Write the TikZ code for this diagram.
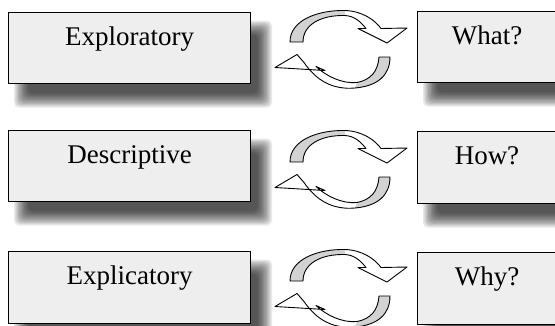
\documentclass[tikz,border=0pt]{standalone}
\usepackage{fontspec}
\setmainfont{Liberation Serif}
\definecolor{boxfill}{HTML}{EEEEEE}
\definecolor{arrowgray}{HTML}{D2D2D2}
\tikzset{
  panel/.style={draw=black, line width=1.2pt, fill=boxfill, inner sep=0pt, anchor=north west},
  lbl/.style={anchor=base, inner sep=0pt, font=\fontsize{27}{31}\selectfont},
  ribbonline/.style={draw=black, line width=0.9pt, line join=round},
}
\newcommand\softshadow[4]{%
  \foreach \k in {0,...,11}{%
    \pgfmathsetmacro\rr{8-1.3*\k}%
    \fill[black, opacity=0.085, rounded corners=5pt] ({#1+14-\rr},{#2+17-\rr}) rectangle ({#3+14+\rr},{#4+17+\rr});
  }}
\newcommand\cyclepair[1]{%
\begin{scope}[shift={(0,#1)}]
  % upper arrow
  \fill[white] (290,42) .. controls (290,20) and (318,10) .. (345,10.5) .. controls (362,11) and (375,20) .. (381,28.5) -- (407,28) -- (387,43) -- (358,28.5) -- (366,28.5) .. controls (360,21) and (354,16) .. (345,15.5) .. controls (320,15) and (303,25) .. (303,42) -- cycle;
  \fill[arrowgray] (290,42) .. controls (290,20) and (318,10) .. (345,10.5) -- (345,15.5) .. controls (320,15) and (303,25) .. (303,42) -- cycle;
  \draw[ribbonline] (290,42) .. controls (290,20) and (318,10) .. (345,10.5) .. controls (362,11) and (375,20) .. (381,28.5) -- (407,28) -- (387,43) -- (358,28.5) -- (366,28.5) .. controls (360,21) and (354,16) .. (345,15.5) .. controls (320,15) and (303,25) .. (303,42) -- cycle;
  % lower arrow
  \fill[white] (390,57) .. controls (390,75) and (378,86) .. (355,88) .. controls (332,90) and (316,80) .. (304,62.5) -- (297,54.5) -- (275,67.5) -- (325,70.5) -- (316,66.5) .. controls (326,76) and (342,84) .. (357,82.5) .. controls (370,80) and (378,72) .. (379,57) -- cycle;
  \fill[arrowgray] (390,57) .. controls (390,75) and (378,86) .. (355,88) -- (357,82.5) .. controls (370,80) and (378,72) .. (379,57) -- cycle;
  \draw[ribbonline] (390,57) .. controls (390,75) and (378,86) .. (355,88) .. controls (332,90) and (316,80) .. (304,62.5) -- (297,54.5) -- (275,67.5) -- (325,70.5) -- (316,66.5) .. controls (326,76) and (342,84) .. (357,82.5) .. controls (370,80) and (378,72) .. (379,57) -- cycle;
\end{scope}}
\begin{document}
\begin{tikzpicture}[x=1pt,y=-1pt]
\useasboundingbox (0,0) rectangle (555,325);
\clip (0,0) rectangle (555,325);
% shadows
\softshadow{8}{11.7}{250}{82.7}
\softshadow{8}{129.5}{250}{200.5}
\softshadow{8}{250.5}{250}{323}
\softshadow{417}{10.7}{570}{81.7}
\softshadow{417}{130.7}{570}{202.7}
\softshadow{417}{251.7}{570}{323}
% left boxes
\node[panel, minimum width=242pt, minimum height=71pt] (b1) at (8,11.7) {};
\node[panel, minimum width=242pt, minimum height=71pt] (b2) at (8,129.5) {};
\node[panel, minimum width=242pt, minimum height=72pt] (b3) at (8,250.5) {};
\node[lbl] (t1) at ([yshift=-34pt]b1.north) {Exploratory};
\node[lbl] (t2) at ([yshift=-34pt]b2.north) {Descriptive};
\node[lbl] (t3) at ([yshift=-34pt]b3.north) {Explicatory};
% right boxes
\node[panel, minimum width=150pt, minimum height=71pt] (r1) at (417,10.7) {};
\node[panel, minimum width=150pt, minimum height=72pt] (r2) at (417,130.7) {};
\node[panel, minimum width=150pt, minimum height=72pt] (r3) at (417,251.7) {};
\node[lbl] (u1) at (487,44.2) {What?};
\node[lbl] (u2) at (487,164.2) {How?};
\node[lbl] (u3) at (487,285.2) {Why?};
% cycle arrows
\cyclepair{0}
\cyclepair{120}
\cyclepair{239}
\end{tikzpicture}
\end{document}
